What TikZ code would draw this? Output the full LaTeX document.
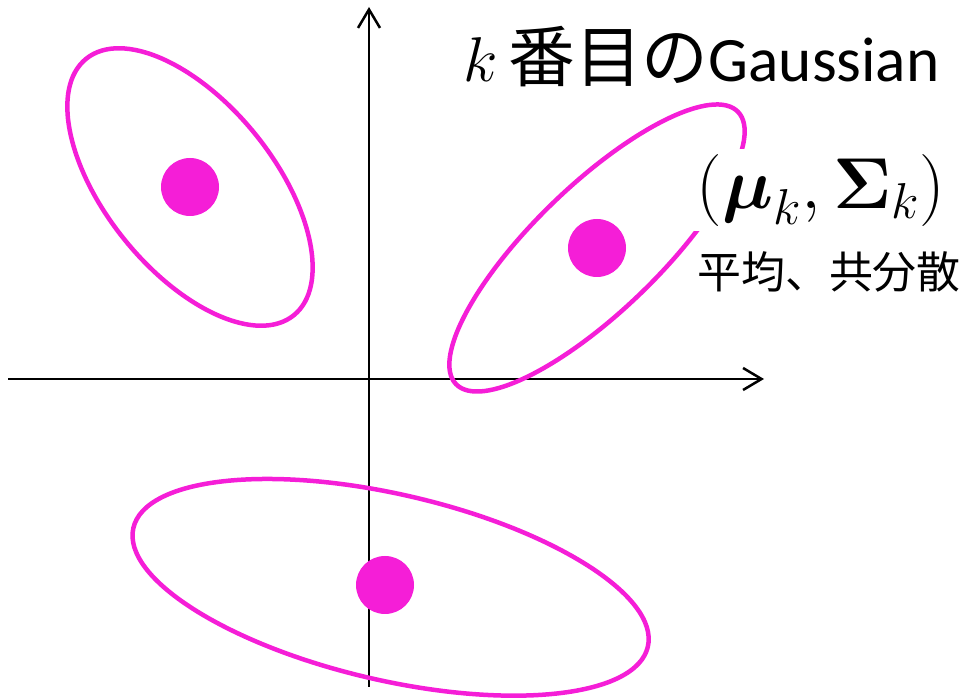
\RequirePackage{fix-cm}
\documentclass[tikz,border=0pt]{standalone}
\usepackage{amsmath,amssymb}
\usepackage{fontspec}
\setmainfont{Carlito}
\newfontfamily\jpfont{Noto Sans CJK JP}
\usepackage{tikz}
\usetikzlibrary{calc,arrows.meta}

\definecolor{gaussmag}{RGB}{245,30,215}
\tikzset{
	gauss/.style={draw=gaussmag, line width=0.9mm},
	mean/.style={circle, fill=gaussmag, inner sep=0pt, minimum size=11.6mm},
	axis/.style={-{Straight Barb[length=3.7mm,width=4.4mm]}, line width=0.5mm},
}

\begin{document}
\begin{tikzpicture}[x=0.2mm, y=0.2mm]
	\useasboundingbox (0,0) rectangle (965,698);

	\coordinate (origin) at (369, 319);
	\coordinate (top) at ($(origin) + (0, 372)$);
	\coordinate (bottom) at ($(origin) + (0, -308)$);
	\coordinate (left) at ($(origin) + (-361, 0)$);
	\coordinate (right) at ($(origin) + (395, 0)$);
	\draw [axis] (bottom) -- (top);
	\draw [axis] (left) -- (right);

	% means
	\node[mean] at (190, 511) (m1) {};
	\node[mean] at (597, 450) (m2) {};
	\node[mean] at (385, 113) (m3) {};

	% covariances
	\draw[gauss, rotate around={-51:(m1.center)}] (m1.center) ellipse [x radius=165, y radius=84];
	\draw[gauss, rotate around={44:(m2.center)}] (m2.center) ellipse [x radius=196, y radius=63];
	\draw[gauss, rotate around={-13:($(m3.center) + (6, -1)$)}] ($(m3.center) + (6, -1)$) ellipse [x radius=264, y radius=93];

	\node[anchor=base west, inner sep=0pt, font=\fontsize{36}{44}\selectfont] at (463, 616) (title) {$k$\,{\jpfont\fontsize{38}{44}\selectfont 番目の}Gaussian};
	\node[fill=white, inner sep=1mm, font=\fontsize{41}{48}\selectfont] at (821, 508) (param) {$(\boldsymbol{\mu}_k, \boldsymbol{\Sigma}_k)$};
	\node[inner sep=0pt, font=\fontsize{25}{30}\selectfont\jpfont] at (829, 426) (avg) {平均、共分散};
\end{tikzpicture}
\end{document}
